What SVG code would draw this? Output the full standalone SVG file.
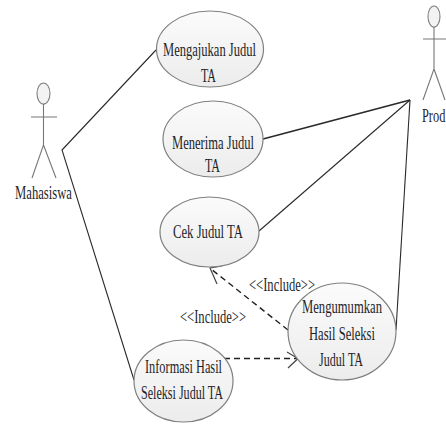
<svg xmlns="http://www.w3.org/2000/svg" width="446" height="424" viewBox="0 0 446 424">
<style>
text{font-family:"Liberation Serif","Times New Roman",serif;font-size:19px;fill:#1f1f2a}
.uc{fill:url(#g);stroke:#7d827e;stroke-width:1.2}
.head{fill:#f3f3f3;stroke:#808080;stroke-width:1.1}
.limb{fill:none;stroke:#777;stroke-width:1.1}
.assoc{fill:none;stroke:#2a2a2a;stroke-width:1.1}
.dash{fill:none;stroke:#222;stroke-width:1.4;stroke-dasharray:6 4}
.open{fill:none;stroke:#444;stroke-width:1.2}
</style>
<defs>
<linearGradient id="g" x1="0" y1="0" x2="0" y2="1"><stop offset="0" stop-color="#fbfbfb"/><stop offset="1" stop-color="#ececec"/></linearGradient>
</defs>
<rect width="446" height="424" fill="#fff"/>
<g id="connectors">
<polyline class="assoc" points="156,50 62,150 134,380"/>
<line class="assoc" x1="263" y1="139" x2="410" y2="100" style="stroke-width:1.7"/>
<line class="assoc" x1="259" y1="231" x2="410" y2="100"/>
<line class="assoc" x1="396" y1="330" x2="410" y2="100"/>
<line class="dash" x1="288" y1="330" x2="211" y2="269"/>
<polyline class="open" points="217,284 210,268 222,266"/>
<line class="dash" x1="224" y1="358.500" x2="297" y2="358.500"/>
<polyline class="open" points="287,352 298,358.500 288,368"/>
</g>
<g id="actor-mahasiswa">
<ellipse class="head" cx="43.500" cy="93.500" rx="6.500" ry="10.500"/>
<path class="limb" d="M31 117H57M43.500 104V145L32 178M43.500 145L56 178"/>
<text x="15" y="199" textLength="57" lengthAdjust="spacingAndGlyphs">Mahasiswa</text>
</g>
<g id="actor-prod">
<ellipse class="head" cx="434" cy="16.500" rx="6" ry="10.500"/>
<path class="limb" d="M423 39H446M434 27V69L423 100M434 69L445 100"/>
<text transform="translate(422 122) scale(.65 1)">Prod</text>
</g>
<g id="uc-mengajukan">
<ellipse class="uc" cx="210" cy="49" rx="53.500" ry="38"/>
<text x="163" y="56" textLength="93" lengthAdjust="spacingAndGlyphs">Mengajukan Judul</text>
<text x="201" y="82" textLength="15" lengthAdjust="spacingAndGlyphs">TA</text>
</g>
<g id="uc-menerima">
<ellipse class="uc" cx="213" cy="139" rx="50" ry="38"/>
<text x="172" y="149" textLength="82" lengthAdjust="spacingAndGlyphs">Menerima Judul</text>
<text x="205" y="172" textLength="15" lengthAdjust="spacingAndGlyphs">TA</text>
</g>
<g id="uc-cek">
<ellipse class="uc" cx="209.500" cy="232" rx="49.500" ry="35"/>
<text x="173" y="238" textLength="70" lengthAdjust="spacingAndGlyphs">Cek Judul TA</text>
</g>
<g id="uc-mengumumkan">
<ellipse class="uc" cx="342" cy="331.500" rx="54" ry="48.500"/>
<text x="302" y="313" textLength="80" lengthAdjust="spacingAndGlyphs">Mengumumkan</text>
<text x="309" y="340" textLength="66" lengthAdjust="spacingAndGlyphs">Hasil Seleksi</text>
<text x="319" y="366" textLength="44" lengthAdjust="spacingAndGlyphs">Judul TA</text>
</g>
<g id="uc-informasi">
<ellipse class="uc" cx="183.500" cy="381" rx="49.500" ry="41"/>
<text x="145" y="373" textLength="77" lengthAdjust="spacingAndGlyphs">Informasi Hasil</text>
<text x="141" y="399" textLength="82" lengthAdjust="spacingAndGlyphs">Seleksi Judul TA</text>
</g>
<g id="labels">
<text x="249" y="291" textLength="66" lengthAdjust="spacingAndGlyphs">&lt;&lt;Include&gt;&gt;</text>
<text x="180" y="323" textLength="66" lengthAdjust="spacingAndGlyphs">&lt;&lt;Include&gt;&gt;</text>
</g>
</svg>
